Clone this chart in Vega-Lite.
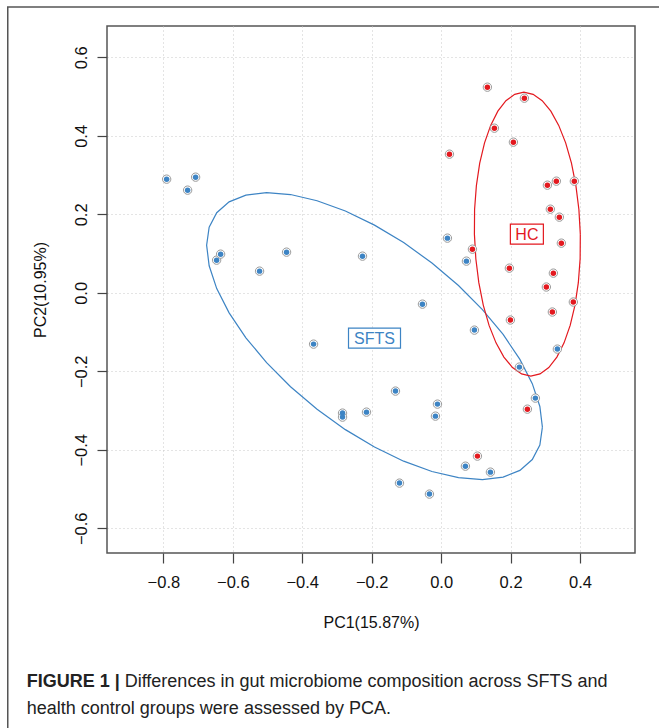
{
  "$schema": "https://vega.github.io/schema/vega-lite/v6.json",
  "width": 528,
  "height": 527,
  "autosize": "none",
  "padding": {"left": 107, "top": 26, "right": 24, "bottom": 175},
  "background": "white",
  "config": {
    "view": {"stroke": "#555555", "strokeWidth": 1.5},
    "font": "Liberation Sans",
    "text": {"font": "Liberation Sans"}
  },
  "datasets": {
    "pts": [
      {"group": "SFTS", "x": -0.7905, "y": 0.2897},
      {"group": "SFTS", "x": -0.7301, "y": 0.2617},
      {"group": "SFTS", "x": -0.7071, "y": 0.2948},
      {"group": "SFTS", "x": -0.6466, "y": 0.0833},
      {"group": "SFTS", "x": -0.6351, "y": 0.0986},
      {"group": "SFTS", "x": -0.5229, "y": 0.0553},
      {"group": "SFTS", "x": -0.4452, "y": 0.1037},
      {"group": "SFTS", "x": -0.2265, "y": 0.0935},
      {"group": "SFTS", "x": -0.3674, "y": -0.1307},
      {"group": "SFTS", "x": -0.1315, "y": -0.2504},
      {"group": "SFTS", "x": -0.2840, "y": -0.3065},
      {"group": "SFTS", "x": -0.2840, "y": -0.3167},
      {"group": "SFTS", "x": -0.2150, "y": -0.3040},
      {"group": "SFTS", "x": -0.1200, "y": -0.4849},
      {"group": "SFTS", "x": -0.0538, "y": -0.0288},
      {"group": "SFTS", "x": 0.0958, "y": -0.0950},
      {"group": "SFTS", "x": 0.3347, "y": -0.1434},
      {"group": "SFTS", "x": 0.2253, "y": -0.1893},
      {"group": "SFTS", "x": 0.2714, "y": -0.2683},
      {"group": "SFTS", "x": -0.0106, "y": -0.2836},
      {"group": "SFTS", "x": -0.0164, "y": -0.3142},
      {"group": "SFTS", "x": 0.0699, "y": -0.4417},
      {"group": "SFTS", "x": 0.1419, "y": -0.4569},
      {"group": "SFTS", "x": -0.0337, "y": -0.5129},
      {"group": "SFTS", "x": 0.0181, "y": 0.1394},
      {"group": "SFTS", "x": 0.0728, "y": 0.0808},
      {"group": "HC", "x": 0.2484, "y": -0.2964},
      {"group": "HC", "x": 0.1045, "y": -0.4161},
      {"group": "HC", "x": 0.3030, "y": 0.0148},
      {"group": "HC", "x": 0.3807, "y": -0.0234},
      {"group": "HC", "x": 0.3203, "y": -0.0489},
      {"group": "HC", "x": 0.1994, "y": -0.0693},
      {"group": "HC", "x": 0.1332, "y": 0.5241},
      {"group": "HC", "x": 0.2397, "y": 0.4961},
      {"group": "HC", "x": 0.1534, "y": 0.4196},
      {"group": "HC", "x": 0.2081, "y": 0.3840},
      {"group": "HC", "x": 0.0239, "y": 0.3534},
      {"group": "HC", "x": 0.3060, "y": 0.2744},
      {"group": "HC", "x": 0.3318, "y": 0.2846},
      {"group": "HC", "x": 0.3836, "y": 0.2846},
      {"group": "HC", "x": 0.3145, "y": 0.2132},
      {"group": "HC", "x": 0.3404, "y": 0.1929},
      {"group": "HC", "x": 0.3462, "y": 0.1266},
      {"group": "HC", "x": 0.0901, "y": 0.1113},
      {"group": "HC", "x": 0.1965, "y": 0.0629},
      {"group": "HC", "x": 0.3232, "y": 0.0502}
    ],
    "ell": [
      {"group": "SFTS", "t": 0, "x": 0.2916, "y": -0.3421},
      {"group": "SFTS", "t": 10, "x": 0.2843, "y": -0.3877},
      {"group": "SFTS", "t": 20, "x": 0.2625, "y": -0.4248},
      {"group": "SFTS", "t": 30, "x": 0.2268, "y": -0.4524},
      {"group": "SFTS", "t": 40, "x": 0.1785, "y": -0.4697},
      {"group": "SFTS", "t": 50, "x": 0.1189, "y": -0.4759},
      {"group": "SFTS", "t": 60, "x": 0.0499, "y": -0.4711},
      {"group": "SFTS", "t": 70, "x": -0.0265, "y": -0.4553},
      {"group": "SFTS", "t": 80, "x": -0.1080, "y": -0.4290},
      {"group": "SFTS", "t": 90, "x": -0.1919, "y": -0.3931},
      {"group": "SFTS", "t": 100, "x": -0.2758, "y": -0.3486},
      {"group": "SFTS", "t": 110, "x": -0.3573, "y": -0.2967},
      {"group": "SFTS", "t": 120, "x": -0.4337, "y": -0.2393},
      {"group": "SFTS", "t": 130, "x": -0.5027, "y": -0.1779},
      {"group": "SFTS", "t": 140, "x": -0.5623, "y": -0.1145},
      {"group": "SFTS", "t": 150, "x": -0.6106, "y": -0.0510},
      {"group": "SFTS", "t": 160, "x": -0.6463, "y": 0.0108},
      {"group": "SFTS", "t": 170, "x": -0.6681, "y": 0.0689},
      {"group": "SFTS", "t": 180, "x": -0.6754, "y": 0.1215},
      {"group": "SFTS", "t": 190, "x": -0.6681, "y": 0.1671},
      {"group": "SFTS", "t": 200, "x": -0.6463, "y": 0.2042},
      {"group": "SFTS", "t": 210, "x": -0.6106, "y": 0.2318},
      {"group": "SFTS", "t": 220, "x": -0.5623, "y": 0.2491},
      {"group": "SFTS", "t": 230, "x": -0.5027, "y": 0.2553},
      {"group": "SFTS", "t": 240, "x": -0.4337, "y": 0.2505},
      {"group": "SFTS", "t": 250, "x": -0.3573, "y": 0.2347},
      {"group": "SFTS", "t": 260, "x": -0.2758, "y": 0.2084},
      {"group": "SFTS", "t": 270, "x": -0.1919, "y": 0.1725},
      {"group": "SFTS", "t": 280, "x": -0.1080, "y": 0.1280},
      {"group": "SFTS", "t": 290, "x": -0.0265, "y": 0.0761},
      {"group": "SFTS", "t": 300, "x": 0.0499, "y": 0.0187},
      {"group": "SFTS", "t": 310, "x": 0.1189, "y": -0.0427},
      {"group": "SFTS", "t": 320, "x": 0.1785, "y": -0.1061},
      {"group": "SFTS", "t": 330, "x": 0.2268, "y": -0.1696},
      {"group": "SFTS", "t": 340, "x": 0.2625, "y": -0.2314},
      {"group": "SFTS", "t": 350, "x": 0.2843, "y": -0.2895},
      {"group": "SFTS", "t": 360, "x": 0.2916, "y": -0.3421},
      {"group": "HC", "t": 0, "x": 0.4008, "y": 0.1496},
      {"group": "HC", "t": 10, "x": 0.3967, "y": 0.2124},
      {"group": "HC", "t": 20, "x": 0.3881, "y": 0.2733},
      {"group": "HC", "t": 30, "x": 0.3753, "y": 0.3305},
      {"group": "HC", "t": 40, "x": 0.3586, "y": 0.3822},
      {"group": "HC", "t": 50, "x": 0.3386, "y": 0.4267},
      {"group": "HC", "t": 60, "x": 0.3159, "y": 0.4629},
      {"group": "HC", "t": 70, "x": 0.2910, "y": 0.4896},
      {"group": "HC", "t": 80, "x": 0.2649, "y": 0.5059},
      {"group": "HC", "t": 90, "x": 0.2382, "y": 0.5114},
      {"group": "HC", "t": 100, "x": 0.2119, "y": 0.5059},
      {"group": "HC", "t": 110, "x": 0.1866, "y": 0.4896},
      {"group": "HC", "t": 120, "x": 0.1633, "y": 0.4629},
      {"group": "HC", "t": 130, "x": 0.1426, "y": 0.4267},
      {"group": "HC", "t": 140, "x": 0.1250, "y": 0.3822},
      {"group": "HC", "t": 150, "x": 0.1111, "y": 0.3305},
      {"group": "HC", "t": 160, "x": 0.1015, "y": 0.2733},
      {"group": "HC", "t": 170, "x": 0.0963, "y": 0.2124},
      {"group": "HC", "t": 180, "x": 0.0958, "y": 0.1496},
      {"group": "HC", "t": 190, "x": 0.0999, "y": 0.0868},
      {"group": "HC", "t": 200, "x": 0.1085, "y": 0.0259},
      {"group": "HC", "t": 210, "x": 0.1213, "y": -0.0313},
      {"group": "HC", "t": 220, "x": 0.1380, "y": -0.0830},
      {"group": "HC", "t": 230, "x": 0.1580, "y": -0.1275},
      {"group": "HC", "t": 240, "x": 0.1807, "y": -0.1637},
      {"group": "HC", "t": 250, "x": 0.2056, "y": -0.1904},
      {"group": "HC", "t": 260, "x": 0.2317, "y": -0.2067},
      {"group": "HC", "t": 270, "x": 0.2584, "y": -0.2122},
      {"group": "HC", "t": 280, "x": 0.2847, "y": -0.2067},
      {"group": "HC", "t": 290, "x": 0.3100, "y": -0.1904},
      {"group": "HC", "t": 300, "x": 0.3333, "y": -0.1637},
      {"group": "HC", "t": 310, "x": 0.3540, "y": -0.1275},
      {"group": "HC", "t": 320, "x": 0.3716, "y": -0.0830},
      {"group": "HC", "t": 330, "x": 0.3855, "y": -0.0313},
      {"group": "HC", "t": 340, "x": 0.3951, "y": 0.0259},
      {"group": "HC", "t": 350, "x": 0.4003, "y": 0.0868},
      {"group": "HC", "t": 360, "x": 0.4008, "y": 0.1496}
    ],
    "labels": [
      {"group": "HC", "x": 0.2469, "y": 0.1496},
      {"group": "SFTS", "x": -0.1919, "y": -0.1154}
    ]
  },
  "layer": [
    {
      "encoding": {
        "x": {
          "field": "x",
          "type": "quantitative",
          "scale": {"domain": [-0.9623, 0.5583], "zero": false, "nice": false},
          "axis": {
            "values": [-0.8, -0.6, -0.4, -0.2, 0, 0.2, 0.4],
            "format": ".1f",
            "title": "PC1(15.87%)",
            "domain": false,
            "grid": true,
            "gridDash": [1, 3],
            "gridColor": "#c8c8c8",
            "gridWidth": 1,
            "ticks": true,
            "tickSize": 10,
            "tickColor": "#444444",
            "tickWidth": 1.2,
            "labelFontSize": 16.5,
            "labelColor": "#111111",
            "labelPadding": 11,
            "labelFlush": false,
            "labelOverlap": false,
            "titleFontSize": 16,
            "titleFontWeight": "normal",
            "titleColor": "#111111",
            "titleY": 69,
            "titleBaseline": "middle"
          }
        },
        "y": {
          "field": "y",
          "type": "quantitative",
          "scale": {"domain": [-0.663, 0.68], "zero": false, "nice": false},
          "axis": {
            "values": [-0.6, -0.4, -0.2, 0, 0.2, 0.4, 0.6],
            "format": ".1f",
            "title": "PC2(10.95%)",
            "domain": false,
            "grid": true,
            "gridDash": [1, 3],
            "gridColor": "#c8c8c8",
            "gridWidth": 1,
            "ticks": true,
            "tickSize": 10,
            "tickColor": "#444444",
            "tickWidth": 1.2,
            "labelFontSize": 16.5,
            "labelColor": "#111111",
            "labelAngle": -90,
            "labelAlign": "center",
            "labelBaseline": "bottom",
            "labelPadding": 8,
            "labelFlush": false,
            "labelOverlap": false,
            "titleFontSize": 16,
            "titleFontWeight": "normal",
            "titleColor": "#111111",
            "titleX": -67,
            "titleBaseline": "middle"
          }
        }
      },
      "layer": [
        {
          "data": {"name": "ell"},
          "mark": {"type": "line", "strokeWidth": 1.2, "clip": true},
          "encoding": {
            "color": {"field": "group", "type": "nominal", "scale": {"domain": ["HC", "SFTS"], "range": ["#E3191F", "#3D84C4"]}, "legend": null},
            "detail": {"field": "group"},
            "order": {"field": "t", "type": "quantitative"}
          }
        },
        {
          "data": {"name": "pts"},
          "mark": {"type": "point", "filled": false, "fill": "white", "stroke": "#9a9a9a", "strokeWidth": 1, "size": 70, "opacity": 1}
        },
        {
          "data": {"name": "pts"},
          "mark": {"type": "circle", "size": 30, "opacity": 1},
          "encoding": {
            "color": {"field": "group", "type": "nominal", "scale": {"domain": ["HC", "SFTS"], "range": ["#E8141C", "#3A80C1"]}, "legend": null}
          }
        },
        {
          "data": {"name": "labels"},
          "mark": {"type": "point", "filled": false, "fill": "white", "strokeWidth": 1.2, "size": 400, "opacity": 1},
          "encoding": {
            "shape": {"field": "group", "type": "nominal", "scale": {"domain": ["HC", "SFTS"], "range": ["M-1.65,-1L1.65,-1L1.65,1L-1.65,1Z", "M-2.6,-1L2.6,-1L2.6,1L-2.6,1Z"]}, "legend": null},
            "color": {"field": "group", "type": "nominal", "legend": null}
          }
        },
        {
          "data": {"name": "labels"},
          "mark": {"type": "text", "fontSize": 16, "align": "center", "baseline": "middle", "dy": 1},
          "encoding": {
            "text": {"field": "group"},
            "color": {"field": "group", "type": "nominal", "legend": null}
          }
        }
      ]
    },
    {
      "data": {"values": [{"frame": 1}]},
      "mark": {"type": "rect", "filled": false, "stroke": "#555555", "strokeWidth": 1.5, "clip": false},
      "encoding": {
        "x": {"datum": -1.2481, "type": "quantitative"},
        "x2": {"datum": 0.66},
        "y": {"datum": 0.7287, "type": "quantitative"},
        "y2": {"datum": -1.15}
      }
    },
    {
      "data": {"values": [{"text": "FIGURE 1 |"}]},
      "mark": {"type": "text", "fontSize": 18, "fontWeight": "bold", "align": "left", "baseline": "alphabetic", "color": "#222222", "clip": false},
      "encoding": {
        "text": {"field": "text"},
        "x": {"datum": -1.1934, "type": "quantitative"},
        "y": {"datum": -1.0053, "type": "quantitative"}
      }
    },
    {
      "data": {"values": [{"text": "Differences in gut microbiome composition across SFTS and"}]},
      "mark": {"type": "text", "fontSize": 18, "align": "left", "baseline": "alphabetic", "color": "#222222", "clip": false},
      "encoding": {
        "text": {"field": "text"},
        "x": {"datum": -0.9114, "type": "quantitative"},
        "y": {"datum": -1.0053, "type": "quantitative"}
      }
    },
    {
      "data": {"values": [{"text": "health control groups were assessed by PCA."}]},
      "mark": {"type": "text", "fontSize": 18, "align": "left", "baseline": "alphabetic", "color": "#222222", "clip": false},
      "encoding": {
        "text": {"field": "text"},
        "x": {"datum": -1.1934, "type": "quantitative"},
        "y": {"datum": -1.0721, "type": "quantitative"}
      }
    }
  ]
}
